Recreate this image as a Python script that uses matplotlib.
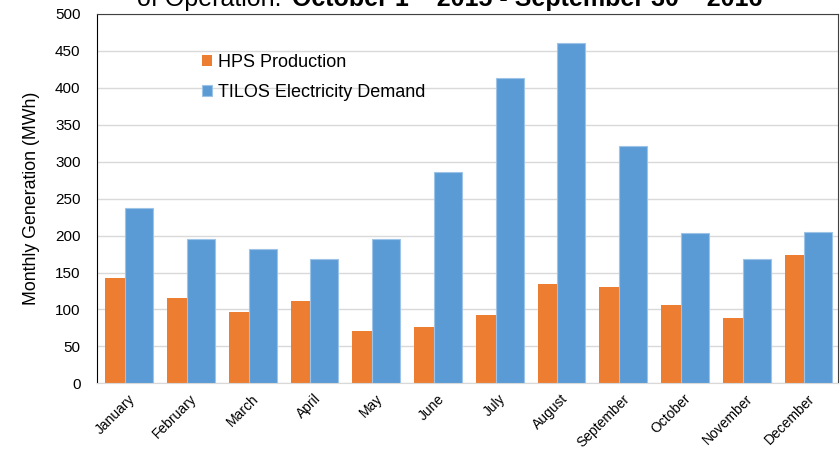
import numpy as np
import matplotlib
matplotlib.use("Agg")
import matplotlib.pyplot as plt

plt.rcParams['font.family'] = ['Liberation Sans', 'DejaVu Sans']

# Monthly values (MWh)
months = ["January", "February", "March", "April", "May", "June",
          "July", "August", "September", "October", "November", "December"]
hps_production = [143, 116, 96, 111, 71, 76, 92, 134, 130, 106, 88, 174]
tilos_demand = [238, 195, 182, 168, 195, 286, 413, 461, 321, 204, 168, 205]

fig = plt.figure(figsize=(8.4, 4.51), dpi=100)
ax = fig.add_axes([0.1158, 0.150, 0.8822, 0.819])

x = np.arange(len(months))
ax.bar(x - 0.37, hps_production, width=0.33, align='edge',
       color='#ED7D31', label='HPS Production', zorder=2)
ax.bar(x - 0.05, tilos_demand, width=0.455, align='edge',
       color='#5B9BD5', edgecolor='#9DC3E6', linewidth=0.8,
       label='TILOS Electricity Demand', zorder=3)

ax.set_xlim(-0.5, 11.5)
ax.set_ylim(0, 500)
ax.set_yticks(np.arange(0, 501, 50))
ax.yaxis.grid(True, color='#d9d9d9', linewidth=1)
ax.set_axisbelow(True)

ax.set_xticks(x)
ax.set_xticklabels(months, rotation=45, ha='right', rotation_mode='anchor',
                   fontsize=10)
ax.tick_params(axis='x', length=0, pad=6)
ax.tick_params(axis='y', length=0, pad=12, labelsize=11)

ax.set_ylabel("Monthly Generation (MWh)", fontsize=12.8, labelpad=11)

for side in ['top', 'right']:
    ax.spines[side].set_color('#404040')
ax.spines['left'].set_color('black')
ax.spines['bottom'].set_color('#d9d9d9')

ax.legend(loc='upper left', bbox_to_anchor=(0.12, 0.935), frameon=False,
          fontsize=13, handlelength=0.55, handleheight=0.55, handletextpad=0.3,
          labelspacing=0.72)

# title sitting above the top edge of the figure
fig.canvas.draw()
renderer = fig.canvas.get_renderer()
t1 = fig.text(137 / 840, 1 - 6 / 451, "of Operation: ", fontsize=18,
              va='baseline', ha='left')
bb = t1.get_window_extent(renderer)
fig.text(bb.x1 / fig.bbox.width + 0.004, 1 - 6 / 451,
         "October 1 \u2013 2015 - September 30 \u2013 2016",
         fontsize=18, fontweight='bold', va='baseline', ha='left')

fig.savefig("out.png", dpi=100)
